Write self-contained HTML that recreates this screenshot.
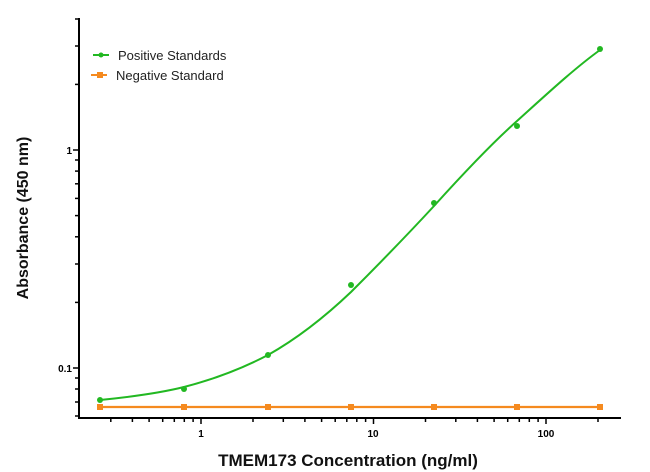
<!DOCTYPE html>
<html><head><meta charset="utf-8"><style>
html,body{margin:0;padding:0;background:#fff;}
svg{display:block;font-family:"Liberation Sans",Arial,sans-serif;}
</style></head><body>
<svg width="650" height="472" viewBox="0 0 650 472" xmlns="http://www.w3.org/2000/svg">
<rect width="650" height="472" fill="#fff"/>
<g stroke="#000" stroke-width="2" fill="none">
<line x1="79" y1="18" x2="79" y2="419"/>
<line x1="78" y1="418" x2="621" y2="418"/>
</g>
<g stroke="#000" stroke-width="1.5">
<line x1="110.8" y1="418" x2="110.8" y2="422"/><line x1="132.4" y1="418" x2="132.4" y2="422"/>
<line x1="149.1" y1="418" x2="149.1" y2="422"/><line x1="162.7" y1="418" x2="162.7" y2="422"/>
<line x1="174.3" y1="418" x2="174.3" y2="422"/><line x1="184.3" y1="418" x2="184.3" y2="422"/>
<line x1="193.1" y1="418" x2="193.1" y2="422"/><line x1="201" y1="418" x2="201" y2="424"/>
<line x1="253" y1="418" x2="253" y2="422"/><line x1="283.3" y1="418" x2="283.3" y2="422"/>
<line x1="304.9" y1="418" x2="304.9" y2="422"/><line x1="321.6" y1="418" x2="321.6" y2="422"/>
<line x1="335.2" y1="418" x2="335.2" y2="422"/><line x1="346.8" y1="418" x2="346.8" y2="422"/>
<line x1="356.8" y1="418" x2="356.8" y2="422"/><line x1="365.6" y1="418" x2="365.6" y2="422"/>
<line x1="373.5" y1="418" x2="373.5" y2="424"/>
<line x1="425.5" y1="418" x2="425.5" y2="422"/><line x1="455.8" y1="418" x2="455.8" y2="422"/>
<line x1="477.4" y1="418" x2="477.4" y2="422"/><line x1="494.1" y1="418" x2="494.1" y2="422"/>
<line x1="507.7" y1="418" x2="507.7" y2="422"/><line x1="519.3" y1="418" x2="519.3" y2="422"/>
<line x1="529.3" y1="418" x2="529.3" y2="422"/><line x1="538.1" y1="418" x2="538.1" y2="422"/>
<line x1="546" y1="418" x2="546" y2="424"/><line x1="598" y1="418" x2="598" y2="422"/>
<line x1="79" y1="416" x2="75" y2="416"/><line x1="79" y1="402" x2="75" y2="402"/>
<line x1="79" y1="389" x2="75" y2="389"/><line x1="79" y1="378" x2="75" y2="378"/>
<line x1="79" y1="368" x2="73" y2="368"/>
<line x1="79" y1="302.4" x2="75" y2="302.4"/><line x1="79" y1="264" x2="75" y2="264"/>
<line x1="79" y1="236.8" x2="75" y2="236.8"/><line x1="79" y1="215.6" x2="75" y2="215.6"/>
<line x1="79" y1="198.4" x2="75" y2="198.4"/><line x1="79" y1="183.8" x2="75" y2="183.8"/>
<line x1="79" y1="171.1" x2="75" y2="171.1"/><line x1="79" y1="160" x2="75" y2="160"/>
<line x1="79" y1="150" x2="73" y2="150"/>
<line x1="79" y1="84.4" x2="75" y2="84.4"/><line x1="79" y1="46" x2="75" y2="46"/>
<line x1="79" y1="19" x2="75" y2="19"/>
</g>
<g font-size="10" font-weight="bold" fill="#000">
<text x="72" y="372" text-anchor="end">0.1</text>
<text x="72" y="154" text-anchor="end">1</text>
<text x="201" y="437" text-anchor="middle">1</text>
<text x="373" y="437" text-anchor="middle">10</text>
<text x="546" y="437" text-anchor="middle">100</text>
</g>
<text x="348" y="466" font-size="17" font-weight="bold" text-anchor="middle" fill="#111">TMEM173 Concentration (ng/ml)</text>
<text transform="translate(28,218) rotate(-90)" font-size="16" font-weight="bold" text-anchor="middle" fill="#111">Absorbance (450 nm)</text>
<line x1="93" y1="55" x2="109" y2="55" stroke="#22b822" stroke-width="2"/>
<circle cx="101" cy="55" r="2.5" fill="#22b822"/>
<text x="118" y="60" font-size="13" fill="#222">Positive Standards</text>
<line x1="91" y1="75" x2="107" y2="75" stroke="#f58a1f" stroke-width="2"/>
<rect x="97" y="72" width="6" height="6" fill="#f58a1f"/>
<text x="116" y="80" font-size="13" fill="#222">Negative Standard</text>
<line x1="100" y1="407" x2="600" y2="407" stroke="#f58a1f" stroke-width="2.2"/>
<g fill="#f58a1f">
<rect x="97" y="404" width="6" height="6"/><rect x="181" y="404" width="6" height="6"/>
<rect x="265" y="404" width="6" height="6"/><rect x="348" y="404" width="6" height="6"/>
<rect x="431" y="404" width="6" height="6"/><rect x="514" y="404" width="6" height="6"/>
<rect x="597" y="404" width="6" height="6"/>
</g>
<path d="M100,400 C130,397 160,393 184,387 C215,379 245,367 268,355 C300,337 330,312 351,292 C380,263 410,232 434,206 C462,175 490,145 517,121 C548,93 575,68 600,50" fill="none" stroke="#22b822" stroke-width="2"/>
<g fill="#22b822">
<circle cx="100" cy="400" r="3"/><circle cx="184" cy="389" r="3"/>
<circle cx="268" cy="355" r="3"/><circle cx="351" cy="285" r="3"/>
<circle cx="434" cy="203" r="3"/><circle cx="517" cy="126" r="3"/>
<circle cx="600" cy="49" r="3"/>
</g>
</svg>
</body></html>
